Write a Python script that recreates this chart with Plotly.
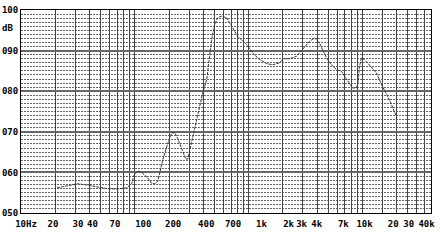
import plotly.graph_objects as go
import math

# ---- data ----
freq_hz = [20.7, 22.9, 28.0, 31.6, 37.9, 46.4, 56.8, 69.5, 85.1, 94.0, 98.0, 106, 117, 130,
           141, 150, 159, 176, 195, 211, 224, 238, 258, 280, 292, 323, 357, 395, 428, 473,
           503, 535, 580, 641, 709, 801, 960, 1084, 1248, 1438, 1625, 1871, 2028, 2291,
           2637, 2979, 3428, 3793, 4197, 4457, 4932, 5346, 5914, 6544, 6950, 7691, 8170,
           8851, 9141, 9419, 9796, 10419, 11518, 13266, 14974, 17250, 19870]
level_db = [56.2, 56.4, 56.9, 57.2, 56.9, 56.5, 56.0, 55.9, 56.2, 57.3, 59.2, 60.4, 59.8, 58.6,
            57.3, 57.2, 57.8, 63.1, 67.2, 69.7, 69.8, 68.4, 65.6, 63.3, 63.3, 68.8, 74.6, 79.6,
            82.8, 92.7, 96.4, 98.1, 98.5, 98.1, 96.0, 93.5, 91.5, 89.4, 87.8, 86.8, 86.5, 87.0,
            88.0, 88.0, 88.6, 90.2, 92.3, 93.1, 91.9, 90.2, 87.8, 86.5, 85.3, 84.9, 83.7, 82.0,
            80.8, 80.8, 82.0, 86.1, 88.2, 87.8, 86.5, 84.5, 81.2, 77.9, 73.8]

grid_hz = [20, 30, 40, 50, 60, 70, 80, 90, 100, 200, 300, 400, 500, 600, 700, 800, 900,
           1000, 2000, 3000, 4000, 5000, 6000, 7000, 8000, 9000, 10000, 15000, 20000,
           25000, 30000, 35000]
x_labels = ["10Hz", "20", "30", "40", "70", "100", "200", "400", "700", "1k", "2k", "3k",
            "4k", "7k", "10k", "20", "30", "40k"]
x_label_pos_hz = [11.06, 19.1, 31.6, 42.4, 66.9, 118.6, 217, 424, 729, 1296, 2244, 2917,
                  3967, 6794, 10418, 18640, 25518, 36540]
y_ticks = [50, 60, 70, 80, 90, 100]
y_labels = ["050", "060", "070", "080", "090", "100"]

LBL = dict(family="DejaVu Sans Mono", size=9, color="#000000", weight="bold")
xr = [1, math.log10(40000)]

fig = go.Figure()
fig.add_trace(go.Scatter(x=freq_hz, y=level_db, mode="lines",
                         line=dict(color="#333333", width=1, dash="3px,1px"),
                         hoverinfo="skip", showlegend=False))
# invisible trace to activate label axis
fig.add_trace(go.Scatter(x=[x_label_pos_hz[0]], y=[None], xaxis="x2", yaxis="y",
                         mode="markers", showlegend=False, hoverinfo="skip"))

fig.update_layout(
    width=440, height=240,
    margin=dict(l=21, r=9, t=10, b=27, autoexpand=False),
    paper_bgcolor="white", plot_bgcolor="white",
    xaxis=dict(type="log", range=xr, tickvals=grid_hz, showticklabels=False,
               showgrid=True, gridcolor="#444444", gridwidth=1,
               showline=True, linecolor="#000000", linewidth=1, mirror=True,
               ticks="", zeroline=False, fixedrange=True, automargin=False),
    xaxis2=dict(type="log", range=xr, overlaying="x", side="bottom", anchor="y",
                tickvals=x_label_pos_hz, ticktext=x_labels, showgrid=False,
                ticks="", showline=False, zeroline=False, ticklabelstandoff=4,
                tickangle=0, automargin=False, tickfont=LBL, fixedrange=True),
    yaxis=dict(range=[50, 100], tickvals=y_ticks, ticktext=y_labels,
               showgrid=True, gridcolor="#666666", gridwidth=2,
               minor=dict(dtick=1, tick0=50, showgrid=True, gridcolor="#666666",
                          gridwidth=1, griddash="2px,1px", ticks=""),
               showline=True, linecolor="#000000", linewidth=1, mirror=True,
               ticks="", zeroline=False, ticklabelstandoff=0, automargin=False,
               tickfont=LBL, fixedrange=True),
    annotations=[dict(text="dB", xref="paper", yref="paper", x=-21 / 410, y=0.911,
                      xanchor="left", yanchor="middle", showarrow=False, font=LBL)],
)

fig.write_html("out.html")
